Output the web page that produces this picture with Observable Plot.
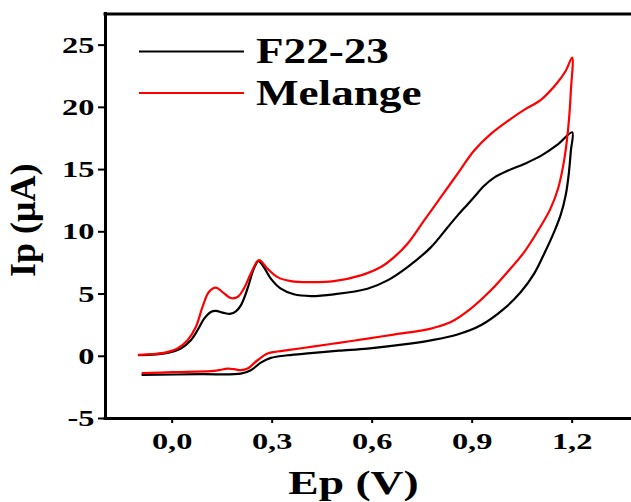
<!DOCTYPE html>
<html>
<head>
<meta charset="utf-8">
<script src="https://cdn.jsdelivr.net/npm/d3@7"></script>
<script src="https://cdn.jsdelivr.net/npm/@observablehq/plot@0.6"></script>
<style>
  html, body { margin: 0; padding: 0; background: #ffffff; }
  #chart svg { display: block; }
</style>
</head>
<body>
<div id="chart"></div>
<script>
// ---- Data ----
const seriesNames = ["F22-23", "Melange"];
const seriesColors = ["#000000", "#ff0000"];

// F22-23: forward scan then reverse scan (potential in V, current in µA)
const f22Potential = [
  -0.100, -0.014, 0.026, 0.056, 0.076, 0.096, 0.116, 0.131, 0.155, 0.176, 0.191, 0.206,
  0.226, 0.245, 0.259, 0.275, 0.296, 0.326, 0.365, 0.416, 0.485, 0.586, 0.646, 0.706,
  0.776, 0.826, 0.856, 0.886, 0.906, 0.936, 0.966, 1.006, 1.056, 1.106, 1.156, 1.200,
  1.196, 1.190, 1.181, 1.166, 1.146, 1.116, 1.086, 1.046, 0.996, 0.926, 0.856, 0.776,
  0.695, 0.586, 0.500, 0.416, 0.346, 0.296, 0.266, 0.236, 0.206, 0.086, -0.089
];
const f22Current = [
  0.08, 0.27, 0.62, 1.28, 2.09, 3.02, 3.56, 3.64, 3.48, 3.42, 3.61, 4.09,
  5.43, 7.04, 7.65, 7.17, 6.24, 5.43, 4.98, 4.84, 4.98, 5.43, 6.10, 7.17,
  8.75, 10.35, 11.30, 12.20, 12.80, 13.70, 14.35, 14.90, 15.45, 16.10, 17.00, 18.00,
  16.50, 14.70, 13.00, 11.40, 10.00, 8.24, 6.64, 5.16, 3.83, 2.49, 1.75, 1.28,
  0.95, 0.62, 0.45, 0.25, 0.08, -0.13, -0.51, -1.12, -1.39, -1.44, -1.50
];

// Melange: forward scan then reverse scan
const melangePotential = [
  -0.100, -0.025, 0.016, 0.046, 0.071, 0.091, 0.110, 0.131, 0.151, 0.176, 0.196, 0.215,
  0.236, 0.260, 0.286, 0.316, 0.356, 0.416, 0.485, 0.566, 0.626, 0.666, 0.706, 0.756,
  0.806, 0.856, 0.906, 0.956, 1.016, 1.056, 1.106, 1.156, 1.180, 1.200,
  1.196, 1.191, 1.184, 1.175, 1.158, 1.134, 1.100, 1.056, 1.006, 0.956, 0.896, 0.836,
  0.776, 0.736, 0.660, 0.586, 0.500, 0.416, 0.346, 0.316, 0.286, 0.256, 0.226, 0.206,
  0.186, 0.166, 0.140, 0.116, 0.000, -0.089
];
const melangeCurrent = [
  0.12, 0.27, 0.62, 1.28, 2.35, 3.96, 5.16, 5.51, 5.16, 4.68, 4.76, 5.43,
  6.64, 7.72, 7.04, 6.36, 6.04, 5.96, 6.04, 6.50, 7.17, 7.97, 9.04, 10.91,
  12.79, 14.66, 16.53, 17.87, 19.08, 19.80, 20.60, 22.00, 22.90, 24.00,
  21.30, 19.20, 17.30, 15.60, 13.50, 11.80, 10.20, 8.37, 6.77, 5.30, 3.83, 2.75,
  2.22, 2.02, 1.72, 1.42, 1.08, 0.75, 0.50, 0.38, 0.22, -0.32, -0.99, -1.12,
  -1.04, -0.99, -1.12, -1.20, -1.28, -1.36
];

const xTicks = [0, 0.3, 0.6, 0.9, 1.2];
const yTicks = [-5, 0, 5, 10, 15, 20, 25];
const xDomain = [-0.2, 1.378];
const yDomain = [-5, 27.5];
const xTitle = "Ep (V)";
const yTitle = "Ip (μA)";

// ---- Build table ----
const rows = [];
f22Potential.forEach((e, i) => rows.push({series: seriesNames[0], E: e, I: f22Current[i]}));
melangePotential.forEach((e, i) => rows.push({series: seriesNames[1], E: e, I: melangeCurrent[i]}));

const FONT = "'Liberation Serif', 'Times New Roman', Times, serif";

const chart = Plot.plot({
  width: 631,
  height: 502,
  marginLeft: 105,
  marginRight: 0,
  marginTop: 13.5,
  marginBottom: 84,
  style: {fontFamily: FONT, fontWeight: "bold", color: "#000", background: "#fff", overflow: "visible"},
  x: {domain: xDomain},
  y: {domain: yDomain},
  color: {domain: seriesNames, range: seriesColors},
  marks: [
    Plot.axisX(xTicks, {
      tickSize: 5, tickPadding: 8, strokeWidth: 2,
      fontSize: 24, fontWeight: "bold",
      tickFormat: d => d.toFixed(1).replace(".", ","),
      label: null
    }),
    Plot.axisY(yTicks, {
      tickSize: 7, tickPadding: 4, strokeWidth: 2,
      fontSize: 24, fontWeight: "bold",
      tickFormat: d => String(d),
      label: null
    }),
    Plot.line(rows, {
      x: "E", y: "I", z: "series", stroke: "series",
      strokeWidth: 2.2, curve: "catmull-rom"
    }),
    Plot.ruleX([xDomain[0]], {strokeWidth: 3, strokeLinecap: "square"}),
    Plot.ruleY([yDomain[0]], {strokeWidth: 3, strokeLinecap: "square"}),
    Plot.ruleY([yDomain[1]], {strokeWidth: 3, strokeLinecap: "square"}),
    Plot.text([xTitle], {
      text: d => d, frameAnchor: "bottom", lineAnchor: "bottom", textAnchor: "middle",
      dx: -15, dy: 75, fontSize: 34, fontWeight: "bold"
    }),
    Plot.text([yTitle], {
      text: d => d, frameAnchor: "left", lineAnchor: "bottom", textAnchor: "middle", rotate: -90,
      dx: -71, dy: 4, fontSize: 36, fontWeight: "bold"
    })
  ]
});

document.getElementById("chart").appendChild(chart);

// Widen the bold serif glyphs horizontally, as in the reference.
function stretch(el, sx) {
  const t = el.getAttribute("transform") || "";
  const x = parseFloat(el.getAttribute("x") || "0") || 0;
  el.removeAttribute("x");
  el.setAttribute("transform", `${t} translate(${x},0) scale(${sx},1)`.trim());
}
chart.querySelectorAll('g[aria-label$="tick label"] text').forEach(el => stretch(el, 1.35));
chart.querySelectorAll('g[aria-label="text"] text').forEach(el => {
  if (el.textContent === xTitle) stretch(el, 1.34);
});

// Legend inside the plot area
const svg = d3.select(chart);
const legend = svg.append("g").attr("aria-label", "legend")
  .attr("font-family", FONT).attr("font-weight", "bold").attr("font-size", 35)
  .attr("text-anchor", "start");
const legendLineY = [51.5, 93];
const legendTextY = [63.3, 105];
seriesNames.forEach((name, i) => {
  legend.append("line")
    .attr("x1", 139).attr("x2", 244)
    .attr("y1", legendLineY[i]).attr("y2", legendLineY[i])
    .attr("stroke", seriesColors[i]).attr("stroke-width", 2);
  legend.append("text")
    .attr("transform", `translate(256,${legendTextY[i]}) scale(1.29,1)`)
    .attr("fill", "#000")
    .text(name);
});
</script>
</body>
</html>
